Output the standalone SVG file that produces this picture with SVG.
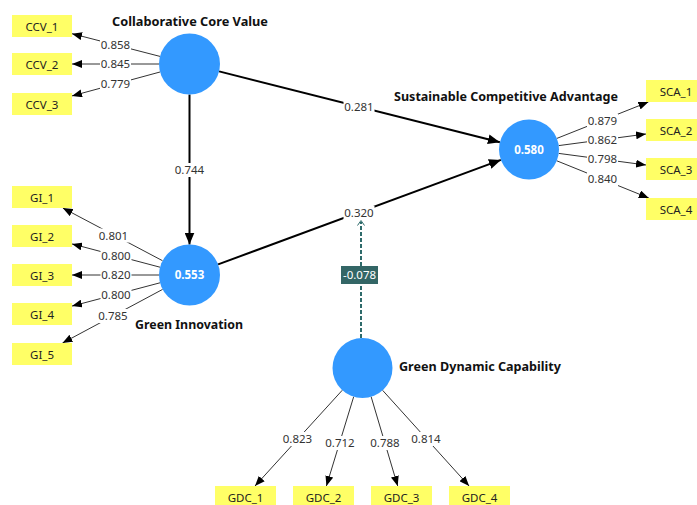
<svg xmlns="http://www.w3.org/2000/svg" width="697" height="505" viewBox="0 0 697 505">
<style>
.lv{fill:#3399ff;}
.ind{fill:#ffff66;}
.it{font-family:"Noto Sans",sans-serif;font-size:11.5px;fill:#222;text-anchor:middle;}
.ttl{font-family:"Noto Sans",sans-serif;font-size:13px;font-weight:bold;fill:#111;}
.r2{font-family:"Noto Sans",sans-serif;font-size:11.5px;font-weight:bold;fill:#fff;text-anchor:middle;}
.ld{stroke:#333;stroke-width:1;fill:none;marker-end:url(#ah);}
.sp{stroke:#000;stroke-width:2;fill:none;marker-end:url(#ah2);}
.lb rect{fill:#fff;}
.lb text{font-family:"Noto Sans",sans-serif;font-size:11.5px;fill:#333;text-anchor:middle;}
</style>
<defs>
<marker id="ah" markerUnits="userSpaceOnUse" markerWidth="10" markerHeight="8" refX="10" refY="4" orient="auto"><path d="M0,0 L10,4 L0,8 z" fill="#000"/></marker>
<marker id="ah2" markerUnits="userSpaceOnUse" markerWidth="12" markerHeight="10" refX="12" refY="5" orient="auto"><path d="M0,0 L12,5 L0,10 z" fill="#000"/></marker>
</defs>
<rect width="697" height="505" fill="#fff"/>
<g id="connectors">
<line class="ld" x1="160" y1="56.4" x2="72" y2="33.7"/>
<line class="ld" x1="159" y1="64" x2="72" y2="64"/>
<line class="ld" x1="160" y1="72" x2="72" y2="95.9"/>
<line class="ld" x1="162.5" y1="260.7" x2="62.8" y2="208"/>
<line class="ld" x1="160" y1="267.2" x2="72" y2="243.9"/>
<line class="ld" x1="159" y1="275" x2="72" y2="275"/>
<line class="ld" x1="160" y1="282.8" x2="72" y2="306.1"/>
<line class="ld" x1="162.6" y1="289.4" x2="62.5" y2="343"/>
<line class="ld" x1="556.9" y1="138.4" x2="648.4" y2="102"/>
<line class="ld" x1="558.7" y1="145.6" x2="646" y2="134"/>
<line class="ld" x1="558.7" y1="153.4" x2="646" y2="165"/>
<line class="ld" x1="556.8" y1="160.8" x2="648.8" y2="198"/>
<line class="ld" x1="342.3" y1="390.2" x2="255" y2="486"/>
<line class="ld" x1="353.7" y1="396.7" x2="326.4" y2="486"/>
<line class="ld" x1="371.1" y1="396.6" x2="397.7" y2="486"/>
<line class="ld" x1="382.6" y1="390.3" x2="469.1" y2="486"/>
<line class="sp" x1="219.1" y1="71.4" x2="499.9" y2="142.2"/>
<line class="sp" x1="218.1" y1="264.4" x2="500.9" y2="159.9"/>
<line class="sp" x1="189.5" y1="94.5" x2="189.5" y2="244.5"/>
<line x1="361" y1="338" x2="361" y2="222" stroke="#2e6b6b" stroke-width="2" stroke-dasharray="4,2"/>
<path d="M357.5,225.5 L361,220.5 L364.5,225.5" stroke="#2e6b6b" stroke-width="1" fill="none"/>
<g class="lb">
<rect x="100" y="38" width="31" height="14"/><text x="115.5" y="49">0.858</text>
<rect x="100" y="57" width="31" height="14"/><text x="115.5" y="68">0.845</text>
<rect x="100" y="77" width="31" height="14"/><text x="115.5" y="88">0.779</text>
<rect x="98" y="228.5" width="31" height="14"/><text x="113.5" y="239.5">0.801</text>
<rect x="100.5" y="249" width="31" height="14"/><text x="116" y="260">0.800</text>
<rect x="100.5" y="268" width="31" height="14"/><text x="116" y="279">0.820</text>
<rect x="100.5" y="287.5" width="31" height="14"/><text x="116" y="298.5">0.800</text>
<rect x="97.5" y="309" width="31" height="14"/><text x="113" y="320">0.785</text>
<rect x="587" y="113.5" width="31" height="14"/><text x="602.5" y="124.5">0.879</text>
<rect x="587" y="133" width="31" height="14"/><text x="602.5" y="144">0.862</text>
<rect x="587" y="152" width="31" height="14"/><text x="602.5" y="163">0.798</text>
<rect x="587" y="172" width="31" height="14"/><text x="602.5" y="183">0.840</text>
<rect x="282" y="432" width="31" height="14"/><text x="297.5" y="443">0.823</text>
<rect x="324.5" y="436" width="31" height="14"/><text x="340" y="447">0.712</text>
<rect x="369.5" y="436" width="31" height="14"/><text x="385" y="447">0.788</text>
<rect x="410.5" y="432" width="31" height="14"/><text x="426" y="443">0.814</text>
<rect x="343.5" y="99.5" width="31" height="14"/><text x="359" y="110.5">0.281</text>
<rect x="343.5" y="206" width="31" height="14"/><text x="359" y="217">0.320</text>
<rect x="174" y="163" width="31" height="14"/><text x="189.5" y="174">0.744</text>
</g>
<g id="moderator-label">
<rect x="341" y="266" width="37" height="18" fill="#336666"/>
<text x="359.5" y="279" font-family="Noto Sans, sans-serif" font-size="11.5" fill="#fff" text-anchor="middle">-0.078</text>
</g>
</g>
<g id="ccv">
<circle class="lv" cx="189.5" cy="64" r="30.5"/>
<text class="ttl" x="112" y="26" textLength="156" lengthAdjust="spacingAndGlyphs">Collaborative Core Value</text>
</g>
<g id="gi">
<circle class="lv" cx="189.5" cy="275" r="30.5"/>
<text class="r2" x="189.5" y="279">0.553</text>
<text class="ttl" x="135" y="329" textLength="108" lengthAdjust="spacingAndGlyphs">Green Innovation</text>
</g>
<g id="sca">
<circle class="lv" cx="529" cy="149.5" r="30"/>
<text class="r2" x="529" y="153.5">0.580</text>
<text class="ttl" x="394" y="101" textLength="224" lengthAdjust="spacingAndGlyphs">Sustainable Competitive Advantage</text>
</g>
<g id="gdc">
<circle class="lv" cx="362.5" cy="368" r="30"/>
<text class="ttl" x="399" y="371" textLength="162" lengthAdjust="spacingAndGlyphs">Green Dynamic Capability</text>
</g>
<g id="CCV_1"><rect class="ind" x="12" y="15" width="60" height="22"/><text class="it" x="42" y="30.5">CCV_1</text></g>
<g id="CCV_2"><rect class="ind" x="12" y="53" width="60" height="22"/><text class="it" x="42" y="68.5">CCV_2</text></g>
<g id="CCV_3"><rect class="ind" x="12" y="93" width="60" height="22"/><text class="it" x="42" y="108.5">CCV_3</text></g>
<g id="GI_1"><rect class="ind" x="12" y="186" width="60" height="22"/><text class="it" x="42" y="201.5">GI_1</text></g>
<g id="GI_2"><rect class="ind" x="12" y="225" width="60" height="22"/><text class="it" x="42" y="240.5">GI_2</text></g>
<g id="GI_3"><rect class="ind" x="12" y="264" width="60" height="22"/><text class="it" x="42" y="279.5">GI_3</text></g>
<g id="GI_4"><rect class="ind" x="12" y="303" width="60" height="22"/><text class="it" x="42" y="318.5">GI_4</text></g>
<g id="GI_5"><rect class="ind" x="12" y="343" width="60" height="22"/><text class="it" x="42" y="358.5">GI_5</text></g>
<g id="SCA_1"><rect class="ind" x="646" y="80" width="60" height="22"/><text class="it" x="676" y="95.5">SCA_1</text></g>
<g id="SCA_2"><rect class="ind" x="646" y="119" width="60" height="22"/><text class="it" x="676" y="134.5">SCA_2</text></g>
<g id="SCA_3"><rect class="ind" x="646" y="158" width="60" height="22"/><text class="it" x="676" y="173.5">SCA_3</text></g>
<g id="SCA_4"><rect class="ind" x="646" y="198" width="60" height="22"/><text class="it" x="676" y="213.5">SCA_4</text></g>
<g id="GDC_1"><rect class="ind" x="215" y="486" width="61" height="22"/><text class="it" x="245.5" y="501.5">GDC_1</text></g>
<g id="GDC_2"><rect class="ind" x="293" y="486" width="61" height="22"/><text class="it" x="323.5" y="501.5">GDC_2</text></g>
<g id="GDC_3"><rect class="ind" x="371" y="486" width="61" height="22"/><text class="it" x="401.5" y="501.5">GDC_3</text></g>
<g id="GDC_4"><rect class="ind" x="449" y="486" width="61" height="22"/><text class="it" x="479.5" y="501.5">GDC_4</text></g>
</svg>
